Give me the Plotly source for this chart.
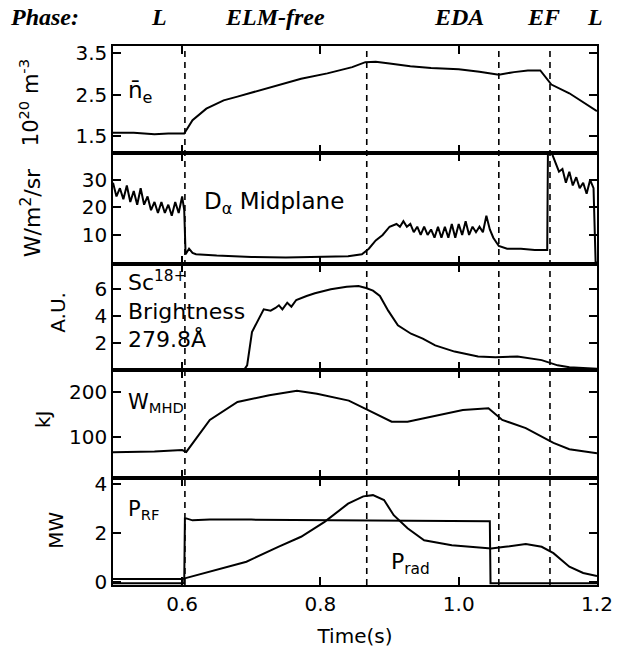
import plotly.graph_objects as go
from plotly.subplots import make_subplots

# ---------------- data ----------------
phase_labels = ["L", "ELM-free", "EDA", "EF", "L"]
phase_label_t = [0.566, 0.735, 1.000, 1.123, 1.197]
phase_boundaries = [0.604, 0.867, 1.058, 1.132]

ne_t = [0.50, 0.53, 0.56, 0.58, 0.603, 0.615, 0.635, 0.66, 0.68, 0.72, 0.772, 0.81, 0.846, 0.865,
        0.88, 0.90, 0.93, 0.96, 1.00, 1.03, 1.058, 1.08, 1.10, 1.118, 1.134, 1.16, 1.20]
ne_v = [1.58, 1.58, 1.54, 1.56, 1.56, 1.88, 2.16, 2.36, 2.45, 2.64, 2.88, 3.01, 3.16, 3.28,
        3.29, 3.25, 3.18, 3.14, 3.11, 3.05, 2.98, 3.04, 3.08, 3.08, 2.74, 2.53, 2.10]

da_t = [0.500, 0.505, 0.510, 0.515, 0.520, 0.525, 0.530, 0.535, 0.540, 0.545, 0.550, 0.555,
        0.560, 0.565, 0.570, 0.575, 0.580, 0.585, 0.590, 0.595, 0.600, 0.603, 0.605, 0.610,
        0.615, 0.620, 0.650, 0.700, 0.750, 0.800, 0.840, 0.860, 0.870, 0.880, 0.890, 0.900,
        0.910, 0.915, 0.920, 0.925, 0.930, 0.935, 0.940, 0.945, 0.950, 0.955, 0.960, 0.965,
        0.970, 0.975, 0.980, 0.985, 0.990, 0.995, 1.000, 1.005, 1.010, 1.015, 1.020, 1.025,
        1.030, 1.035, 1.040, 1.045, 1.050, 1.058, 1.070, 1.090, 1.110, 1.128, 1.129, 1.135,
        1.140, 1.145, 1.150, 1.155, 1.160, 1.165, 1.170, 1.175, 1.180, 1.185, 1.190, 1.195,
        1.198, 1.200]
da_v = [29, 24, 27, 23, 28, 22, 26, 21, 27, 21, 24, 19,
        22, 18, 22, 18, 21, 17, 22, 18, 24, 19, 3, 5,
        3.5, 3, 2.5, 2.0, 1.8, 2.0, 2.3, 3, 5, 8, 10, 13,
        14, 13, 15, 13, 14, 11, 13, 10, 13, 10, 12, 9,
        13, 9, 13, 9, 14, 9, 14, 10, 15, 10, 13, 11,
        13, 11, 17, 12, 9, 6, 5, 5, 4.5, 4.5, 39.5, 39.5,
        36, 33, 34, 29, 33, 28, 31, 27, 29, 25, 30, 27,
        0, 0]

sc_t = [0.500, 0.690, 0.694, 0.701, 0.718, 0.728, 0.735, 0.740, 0.745, 0.752, 0.758, 0.765,
        0.780, 0.792, 0.815, 0.838, 0.855, 0.866, 0.876, 0.886, 0.898, 0.912, 0.931, 0.948,
        0.966, 0.994, 1.028, 1.053, 1.085, 1.120, 1.143, 1.160, 1.200]
sc_v = [0.0, 0.0, 0.3, 2.8, 4.5, 4.4, 4.6, 4.8, 4.5, 5.0, 4.7, 5.2,
        5.5, 5.7, 6.0, 6.2, 6.25, 6.1, 5.9, 5.5, 4.4, 3.3, 2.67, 2.3,
        1.8, 1.33, 0.96, 0.9, 0.96, 0.69, 0.3, 0.15, 0.05]

w_t = [0.500, 0.560, 0.600, 0.606, 0.640, 0.680, 0.726, 0.766, 0.795, 0.841, 0.869, 0.903,
       0.926, 0.966, 1.006, 1.043, 1.063, 1.097, 1.137, 1.160, 1.200]
w_v = [66, 68, 71, 67, 138, 178, 193, 203, 196, 181, 160, 134,
       134, 147, 160, 164, 138, 120, 87, 73, 64]

prf_t = [0.500, 0.603, 0.604, 0.606, 0.615, 0.640, 0.700, 0.800, 0.900, 1.000, 1.045, 1.046, 1.200]
prf_v = [-0.05, -0.05, 2.60, 2.60, 2.52, 2.55, 2.55, 2.53, 2.51, 2.49, 2.48, -0.05, -0.05]

prad_t = [0.500, 0.600, 0.605, 0.647, 0.693, 0.739, 0.772, 0.806, 0.840, 0.862, 0.876, 0.892,
          0.906, 0.926, 0.950, 0.990, 1.020, 1.047, 1.067, 1.097, 1.120, 1.137, 1.160, 1.180, 1.200]
prad_v = [0.12, 0.12, 0.16, 0.49, 0.83, 1.44, 1.85, 2.46, 3.20, 3.50, 3.55, 3.35,
          2.73, 2.20, 1.71, 1.50, 1.44, 1.37, 1.44, 1.55, 1.44, 1.18, 0.63, 0.37, 0.25]

x_ticks = [0.6, 0.8, 1.0, 1.2]
x_ticklabels = ["0.6", "0.8", "1.0", "1.2"]
y_ticks = [[1.5, 2.5, 3.5], [10, 20, 30], [2, 4, 6], [100, 200], [0, 2, 4]]
y_ranges = [[1.09, 3.67], [-0.55, 39.8], [-0.05, 7.9], [9, 249], [-0.12, 4.25]]
y_titles = ["10<sup>20</sup> m<sup>-3</sup>", "W/m<sup>2</sup>/sr", "A.U.", "kJ", "MW"]

# ---------------- layout geometry (pixels) ----------------
W, H = 625, 658
L, R, T, B = 113, 21, 46, 73
row_px = [107, 111, 106, 108, 107]
PW = W - L - R
PH = H - T - B


def px(x):
    return (x - L) / PW


def py(y):
    return (H - B - y) / PH


FONT = "DejaVu Sans"
black = "black"

fig = make_subplots(rows=5, cols=1, shared_xaxes=True, vertical_spacing=0,
                    row_heights=row_px)

series = [(ne_t, ne_v, 1), (da_t, da_v, 2), (sc_t, sc_v, 3), (w_t, w_v, 4),
          (prf_t, prf_v, 5), (prad_t, prad_v, 5)]
for t, v, r in series:
    fig.add_trace(go.Scatter(x=t, y=v, mode="lines", line=dict(color=black, width=2),
                             showlegend=False, hoverinfo="skip"), row=r, col=1)

for i in range(5):
    fig.update_yaxes(range=y_ranges[i], tickvals=y_ticks[i], ticks="inside", ticklen=8,
                     tickwidth=1.5, tickcolor=black, showline=True, linewidth=1.5,
                     linecolor=black, mirror="ticks", showgrid=False, zeroline=False,
                     tickfont=dict(family=FONT, size=20, color=black), row=i + 1, col=1)
    fig.update_xaxes(range=[0.5, 1.2], tickvals=x_ticks, ticktext=x_ticklabels,
                     ticks="inside", ticklen=8, tickwidth=1.5, tickcolor=black,
                     showline=True, linewidth=1.5, linecolor=black, mirror="ticks",
                     showgrid=False, zeroline=False, showticklabels=(i == 4),
                     tickfont=dict(family=FONT, size=20, color=black), row=i + 1, col=1)

fig.update_xaxes(title=dict(text="Time(s)", font=dict(family=FONT, size=20, color=black),
                            standoff=14), row=5, col=1)

# dashed phase boundaries across all panels
for tb in phase_boundaries:
    fig.add_shape(type="line", xref="x", yref="paper", x0=tb, x1=tb, y0=0, y1=1,
                  line=dict(color=black, width=1.6, dash="6px,5px"))

ann = []
# phase row
ann.append(dict(text="<b><i>Phase:</i></b>", x=px(6), y=py(17), xanchor="left"))
for lab, t in zip(phase_labels, phase_label_t):
    ann.append(dict(text="<b><i>" + lab + "</i></b>", x=(t - 0.5) / 0.7, y=py(17),
                    xanchor="center"))
for a in ann:
    a.update(xref="paper", yref="paper", yanchor="middle", showarrow=False,
             font=dict(family="Liberation Serif", size=24, color=black))

txt = []
txt.append(dict(text="n\u0304<sub>e</sub>", x=px(126), y=py(92), xanchor="left", size=23))
txt.append(dict(text="D<sub>α</sub> Midplane", x=px(203), y=py(203), xanchor="left", size=23))
txt.append(dict(text="Sc<sup>18+</sup><br>Brightness<br>279.8Å", x=px(126), y=py(309),
                xanchor="left", size=22))
txt.append(dict(text="W<sub>MHD</sub>", x=px(126), y=py(403), xanchor="left", size=21))
txt.append(dict(text="P<sub>RF</sub>", x=px(126), y=py(510), xanchor="left", size=21))
txt.append(dict(text="P<sub>rad</sub>", x=px(393), y=py(563), xanchor="left", size=22))
for d in txt:
    s = d.pop("size")
    d.update(xref="paper", yref="paper", yanchor="middle", showarrow=False, align="left",
             font=dict(family=FONT, size=s, color=black))
    ann.append(d)

title_x = [28, 30, 57, 42, 55]
title_y = [103, 213, 312, 420, 530]
title_size = [21, 22, 20, 20, 20]
for s, xx, yy, fs in zip(y_titles, title_x, title_y, title_size):
    ann.append(dict(text=s, x=px(xx), y=py(yy), xref="paper", yref="paper",
                    xanchor="center", yanchor="middle", textangle=-90, showarrow=False,
                    font=dict(family=FONT, size=fs, color=black)))

fig.update_layout(width=W, height=H, margin=dict(l=L, r=R, t=T, b=B),
                  paper_bgcolor="white", plot_bgcolor="white", annotations=ann,
                  showlegend=False)

fig.write_html("out.html")
